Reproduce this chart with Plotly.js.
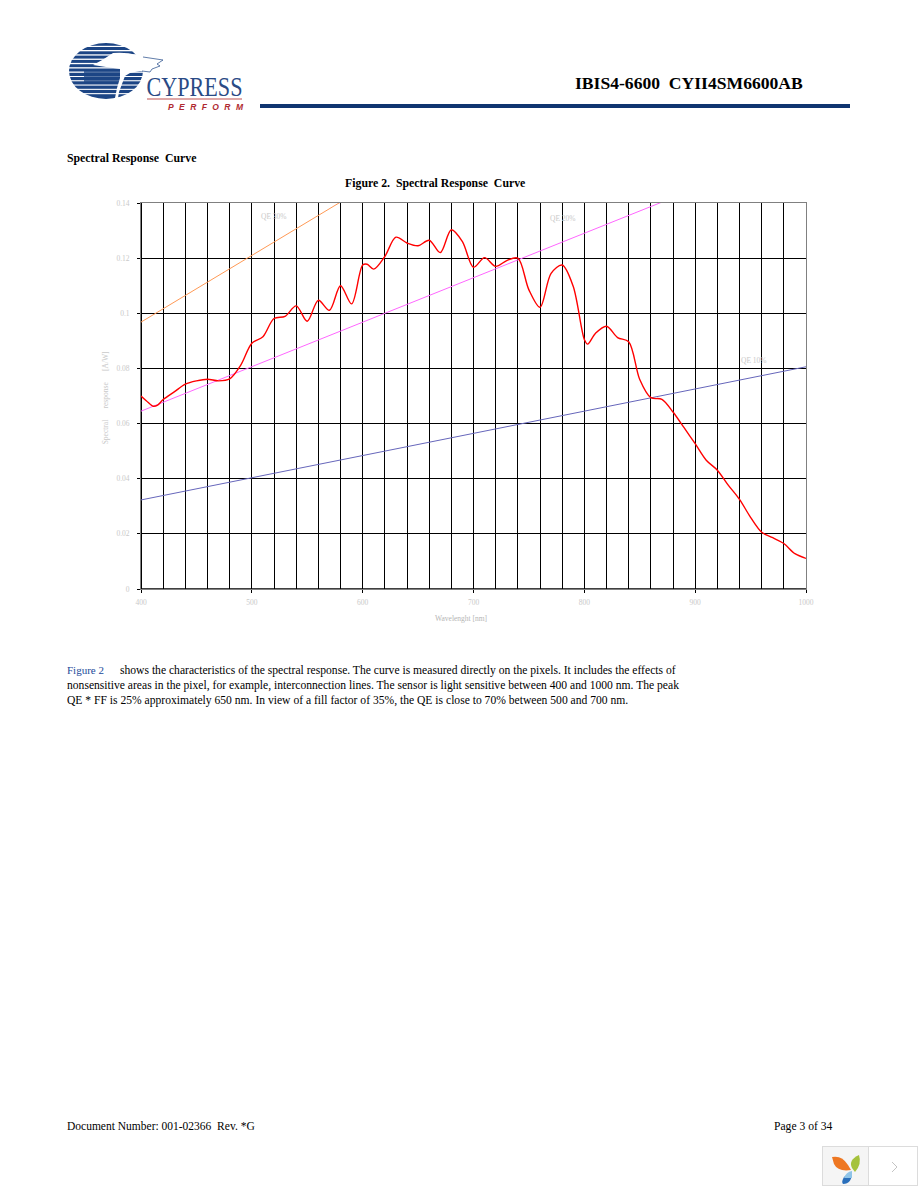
<!DOCTYPE html>
<html>
<head>
<meta charset="utf-8">
<script src="https://cdn.plot.ly/plotly-3.0.1.min.js"></script>
<style>
html,body{margin:0;padding:0;background:#fff;width:918px;height:1188px;overflow:hidden}
#chart{position:absolute;left:0;top:0;width:918px;height:1188px}
#chrome{position:absolute;left:0;top:0;pointer-events:none}
</style>
</head>
<body>
<div id="chart"></div>
<svg id="chrome" width="918" height="1188" viewBox="0 0 918 1188" xmlns="http://www.w3.org/2000/svg">
  <defs>
    <clipPath id="globe"><ellipse cx="106" cy="71" rx="37" ry="28"/></clipPath>
  </defs>
  <g clip-path="url(#globe)" fill="#1c4585">
    <rect x="65" y="43" width="80" height="2.8"/><rect x="65" y="47" width="80" height="3"/>
    <rect x="65" y="51.3" width="80" height="3"/><rect x="65" y="55.6" width="80" height="3"/>
    <rect x="65" y="59.9" width="80" height="3"/><rect x="65" y="64.2" width="80" height="3"/>
    <rect x="65" y="68.5" width="80" height="3"/><rect x="65" y="72.8" width="80" height="3.2"/>
    <rect x="65" y="77" width="80" height="3.2"/><rect x="65" y="81.3" width="80" height="3.2"/>
    <rect x="65" y="85.6" width="80" height="3.2"/><rect x="65" y="89.9" width="80" height="3.2"/>
    <rect x="65" y="94.2" width="80" height="4.8"/>
    <rect x="84" y="70" width="38" height="14" opacity="0.75"/>
  </g>
  <path d="M93 65 Q103 60 113 53 Q126 52 137 55 L150 57 L163 60 L157 64 L160 66 L152 69 L150 72 L140 71 L130 73 L125 76 L122 84 L119 92 L118 98 L115 98 L117 88 L120 78 L120 69 L106 67 Z" fill="#fff"/>
  <path d="M143 57 L163 60 L157 64 L160 66 L152 69 L150 72 L142 71" fill="none" stroke="#1c4585" stroke-width="0.7"/>
  <text x="146.5" y="96" font-family="Liberation Serif" font-size="27" fill="#2a4a85" textLength="96" lengthAdjust="spacingAndGlyphs">CYPRESS</text>
  <rect x="147" y="98.5" width="95" height="1" fill="#c05050"/>
  <text x="168" y="110" font-family="Liberation Sans" font-style="italic" font-weight="bold" font-size="8.5" fill="#b02a30" textLength="75">PERFORM</text>
  <rect x="260" y="104" width="590" height="4" fill="#0f3570"/>
  <rect x="822.5" y="1146.5" width="95" height="39" fill="#fff" stroke="#dcdcdc"/>
  <rect x="823" y="1147" width="45" height="38" fill="#f5f5f5"/>
  <line x1="868.5" y1="1146.5" x2="868.5" y2="1185" stroke="#dcdcdc"/>
  <path d="M832 1157 Q842 1155 848 1165 L851 1170 Q838 1172 834 1164 Z" fill="#ee7722"/>
  <path d="M852 1168 Q848 1160 859 1155 Q862 1164 855 1172 Z" fill="#a5c23c"/>
  <path d="M851 1172 L844 1177 Q841 1182 843 1184 Q852 1184 852 1172 Z" fill="#2a6fbb"/>
  <path d="M852 1171 Q846 1172 844 1178 L852 1178 Z" fill="#8fc4e8"/>
  <path d="M892 1162 L897 1167 L892 1172" fill="none" stroke="#c4c4c4"/>
</svg>
<script>
const wavelength = [400,405,411,415,420,430,440,450,460,470,480,490,500,510,520,530,540,550,560,570,580,590,600,604,610,620,630,640,650,660,670,680,690,700,710,720,730,740,750,760,770,780,790,800,803,810,820,830,840,850,860,870,880,890,900,910,920,930,940,950,960,970,980,990,1000];
const response   = [.0700,.0682,.0663,.0667,.0687,.0715,.0743,.0755,.0761,.0755,.0762,.0812,.0891,.0915,.0981,.0989,.1027,.0971,.1047,.1011,.1100,.1034,.1175,.1178,.1160,.1206,.1276,.1255,.1245,.1265,.1220,.1303,.1260,.1167,.1202,.1170,.1191,.1200,.1085,.1022,.1145,.1175,.1097,.0905,.0888,.0927,.0953,.0912,.0897,.0760,.0694,.0688,.0642,.0585,.0527,.0467,.0431,.0376,.0325,.0260,.0206,.0186,.0165,.0128,.0111];
const qeX   = [400,1000];
const qe30  = [.0968,.2419];
const qe20  = [.0645,.1613];
const qe10  = [.0323,.0806];
const yTickVals = [0,.02,.04,.06,.08,.1,.12,.14];
const yTickText = ['0','0.02','0.04','0.06','0.08','0.1','0.12','0.14'];
const xTickVals = [400,500,600,700,800,900,1000];

const L=140.7,R=805.7,T=203.3,B=588.7;
const px=x=>(x-L)/(R-L), py=y=>(B-y)/(B-T);
const SERIF='Liberation Serif';
function note(x,y,text,size,color,opt){
  return Object.assign({xref:'paper',yref:'paper',x:px(x),y:py(y),text,showarrow:false,xanchor:'left',yanchor:'middle',
    align:'left',font:{family:SERIF,size,color},borderpad:0},opt||{});
}
const LG='#c9c9c9';
const annotations=[
  note(574,83,'<b>IBIS4-6600\u00a0 CYII4SM6600AB</b>',17.6,'#000'),
  note(66,158,'<b>Spectral Response\u00a0 Curve</b>',11.8,'#000'),
  note(344,183,'<b>Figure 2.\u00a0 Spectral Response\u00a0 Curve</b>',11.8,'#000'),
  note(66,670,'Figure 2',11.0,'#1a4a9a'),
  note(119,670,'shows the characteristics of the spectral response. The curve is measured directly on the pixels. It includes the effects of',11.6,'#000'),
  note(66,685,'nonsensitive areas in the pixel, for example, interconnection lines. The sensor is light sensitive between 400 and 1000 nm. The peak',11.6,'#000'),
  note(66,700,'QE * FF is 25% approximately 650 nm. In view of a fill factor of 35%, the QE is close to 70% between 500 and 700 nm.',11.6,'#000'),
  note(66,1125,'Document Number: 001-02366\u00a0 Rev. *G',11.5,'#000'),
  note(773,1125,'Page 3 of 34',11.6,'#000'),
  note(274,217,'QE 30%',7.5,LG,{xanchor:'center'}),
  note(563,219,'QE 20%',7.5,LG,{xanchor:'center'}),
  note(754,361,'QE 10%',7.5,LG,{xanchor:'center'}),
  note(461,618,'Wavelenght [nm]',7.5,'#b5b5b5',{xanchor:'center'}),
  note(105,398,'Spectral\u00a0\u00a0\u00a0\u00a0\u00a0 response\u00a0\u00a0\u00a0\u00a0\u00a0 [A/W]',7.5,LG,{xanchor:'center',yanchor:'middle',textangle:-90})
];
const traces=[
  {x:qeX,y:qe30,mode:'lines',line:{color:'#ff9955',width:1},hoverinfo:'skip',name:'QE 30%'},
  {x:qeX,y:qe20,mode:'lines',line:{color:'#ff66ff',width:1},hoverinfo:'skip',name:'QE 20%'},
  {x:qeX,y:qe10,mode:'lines',line:{color:'#6666bb',width:1},hoverinfo:'skip',name:'QE 10%'},
  {x:wavelength,y:response,mode:'lines',line:{color:'#ff0000',width:1.4,shape:'spline',smoothing:0.9},name:'Spectral response'}
];
const layout={
  width:918,height:1188,autosize:false,showlegend:false,
  paper_bgcolor:'#fff',plot_bgcolor:'#fff',
  margin:{l:L,r:918-R,t:T,b:1188-B,pad:0},
  xaxis:{range:[400,1000],tickmode:'array',tickvals:xTickVals,ticks:'outside',ticklen:3,tickcolor:'#000',tickwidth:1,
    showgrid:false,zeroline:false,showline:true,mirror:true,linecolor:'#808080',linewidth:1,
    minor:{dtick:20,tick0:400,showgrid:true,gridcolor:'#000',gridwidth:1,ticks:''},
    tickfont:{family:SERIF,size:7.5,color:LG},ticklabelstandoff:3},
  yaxis:{range:[0,.14],tickmode:'array',tickvals:yTickVals,ticktext:yTickText,ticks:'outside',ticklen:3,tickcolor:'#000',tickwidth:1,
    showgrid:true,gridcolor:'#000',gridwidth:1,zeroline:false,showline:true,mirror:true,linecolor:'#808080',linewidth:1,
    tickfont:{family:SERIF,size:7.5,color:LG},ticklabelstandoff:6},
  shapes:[
    {type:'line',xref:'paper',yref:'paper',x0:0,x1:0,y0:0,y1:1,line:{color:'#000',width:2},layer:'below'},
    {type:'line',xref:'paper',yref:'paper',x0:0,x1:1,y0:0,y1:0,line:{color:'#000',width:1.5},layer:'below'}
  ],
  annotations
};
Plotly.newPlot('chart',traces,layout,{displayModeBar:false,staticPlot:true});
</script>
</body>
</html>
